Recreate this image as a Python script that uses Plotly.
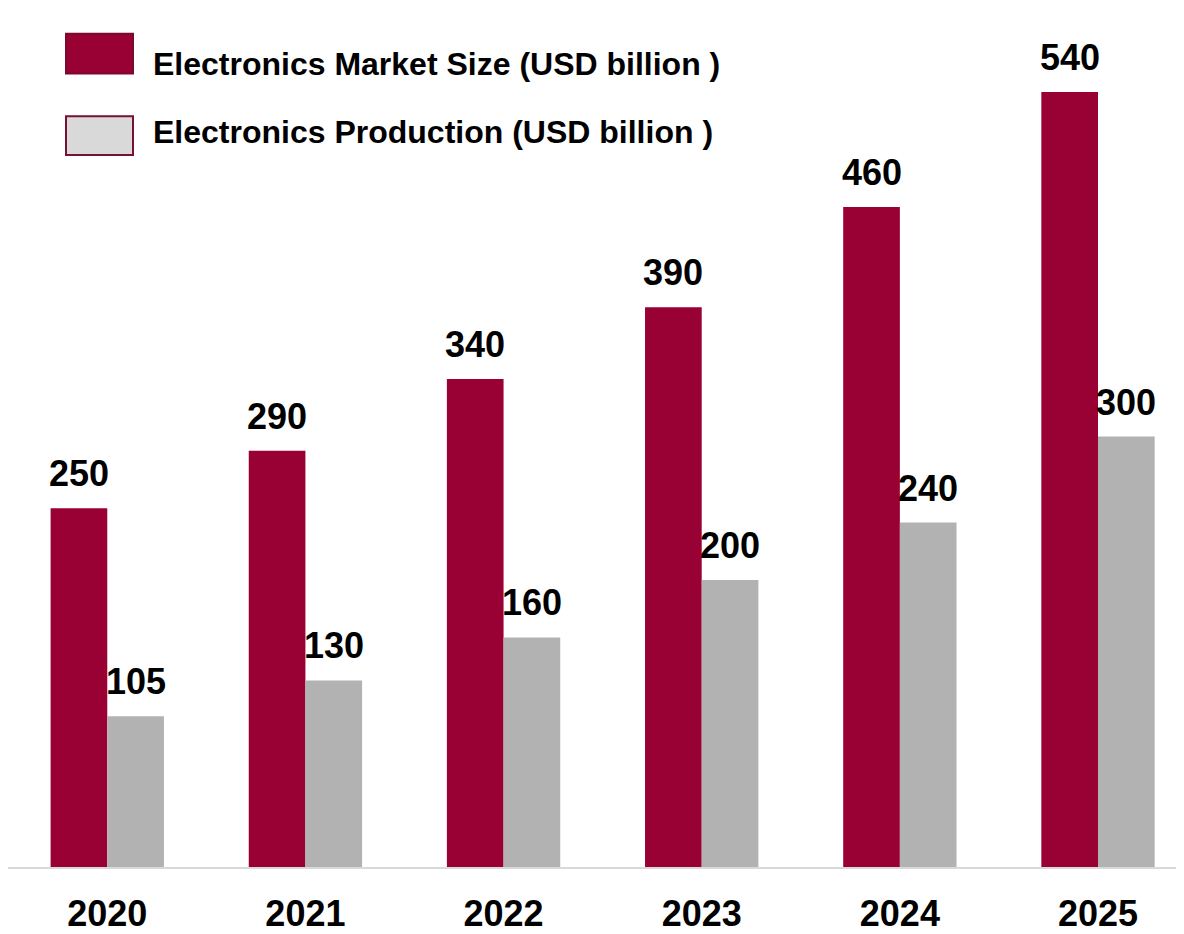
import plotly.graph_objects as go

years = ["2020", "2021", "2022", "2023", "2024", "2025"]
market_size = [250, 290, 340, 390, 460, 540]
production = [105, 130, 160, 200, 240, 300]
series_names = ["Electronics Market Size (USD billion )", "Electronics Production (USD billion )"]

RED = "#990033"
GRAY = "#B2B2B2"
FONT = "Arial, Liberation Sans, sans-serif"

# page body has an 8px margin; figure sized to fill the remaining window
OFF = 8
W, H = 1176, 926
ML, MR, MT, MB = 0, 0, 0, 61
PW, PH = W - ML - MR, H - MT - MB

bargap = 0.428
xpos = list(range(len(years)))

fig = go.Figure()
fig.add_trace(go.Bar(x=xpos, y=market_size, name=series_names[0], marker=dict(color=RED, line=dict(width=0)), showlegend=False))
fig.add_trace(go.Bar(x=xpos, y=production, name=series_names[1], marker=dict(color=GRAY, line=dict(width=0)), showlegend=False))

off = (1 - bargap) / 4
annotations = []
for i, v in enumerate(market_size):
    annotations.append(dict(x=xpos[i] - off, y=v, text=str(v), showarrow=False, xref="x", yref="y",
                            yanchor="bottom", xanchor="center", yshift=12,
                            font=dict(family=FONT, size=36, color="black", weight="bold")))
for i, v in enumerate(production):
    annotations.append(dict(x=xpos[i] + off, y=v, text=str(v), showarrow=False, xref="x", yref="y",
                            yanchor="bottom", xanchor="center", yshift=12,
                            font=dict(family=FONT, size=36, color="black", weight="bold")))

def px(xp):
    return (xp - OFF - ML) / PW

def py(yp):
    return (H - MB - (yp - OFF)) / PH

shapes = [
    dict(type="rect", xref="paper", yref="paper", x0=px(66), x1=px(133), y0=py(74), y1=py(34),
         fillcolor=RED, line=dict(color="#7a0a2c", width=2)),
    dict(type="rect", xref="paper", yref="paper", x0=px(66), x1=px(133), y0=py(156), y1=py(117),
         fillcolor="#D9D9D9", line=dict(color="#7a1030", width=2)),
]
for name, ycen in zip(series_names, [64, 133]):
    annotations.append(dict(x=px(151), y=py(ycen), xref="paper", yref="paper", text=name, showarrow=False,
                            xanchor="left", yanchor="middle",
                            font=dict(family=FONT, size=32, color="black", weight="bold")))

fig.update_layout(
    width=W, height=H,
    margin=dict(l=ML, r=MR, t=MT, b=MB),
    paper_bgcolor="white", plot_bgcolor="white",
    barmode="group", bargap=bargap, bargroupgap=0,
    annotations=annotations, shapes=shapes,
    xaxis=dict(range=[-0.501, 5.434], tickvals=xpos, ticktext=years, showgrid=False, zeroline=False,
               showline=True, linecolor="#D9D9D9", linewidth=2, ticks="", ticklabelstandoff=14,
               tickfont=dict(family=FONT, size=36, color="black", weight="bold")),
    yaxis=dict(range=[0, 598.6], visible=False, showgrid=False, zeroline=False),
)

fig.write_html("out.html")
